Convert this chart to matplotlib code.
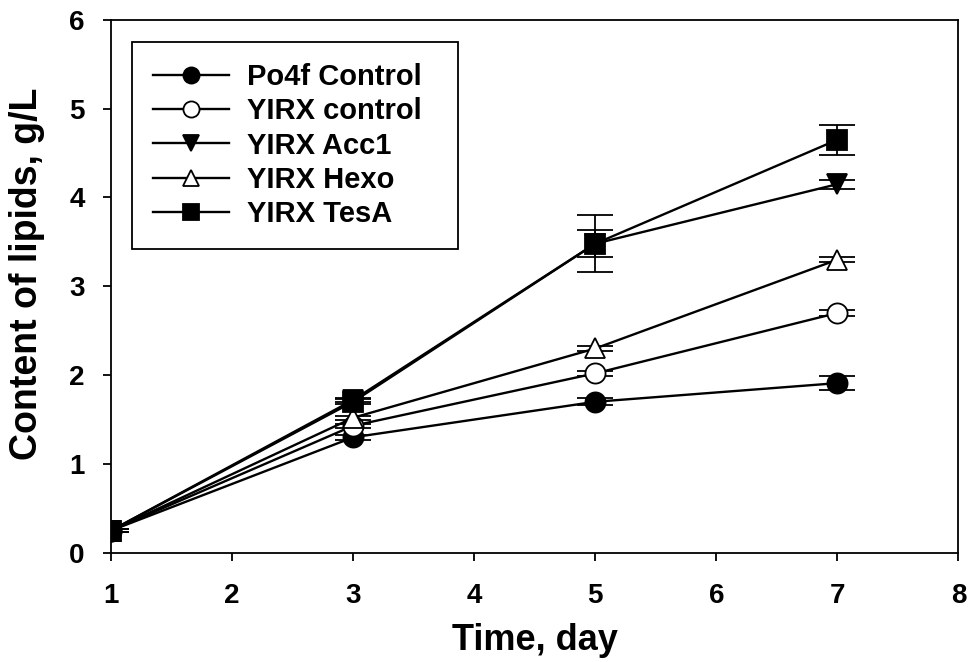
import numpy as np
import matplotlib.pyplot as plt

plt.rcParams['font.family'] = ['Liberation Sans', 'DejaVu Sans']
plt.rcParams['font.weight'] = 'bold'

days = [1, 3, 5, 7]
po4f_control = [0.25, 1.30, 1.70, 1.91]
po4f_err = [0.02, 0.03, 0.04, 0.08]
yirx_control = [0.25, 1.43, 2.02, 2.70]
yirx_control_err = [0.02, 0.02, 0.03, 0.03]
yirx_acc1 = [0.25, 1.72, 3.48, 4.15]
yirx_acc1_err = [0.02, 0.02, 0.15, 0.05]
yirx_hexo = [0.25, 1.52, 2.30, 3.30]
yirx_hexo_err = [0.02, 0.02, 0.03, 0.03]
yirx_tesa = [0.25, 1.70, 3.48, 4.65]
yirx_tesa_err = [0.02, 0.03, 0.32, 0.17]

series = [
    ('Po4f Control', po4f_control, po4f_err, 'o', 'black'),
    ('YIRX control', yirx_control, yirx_control_err, 'o', 'white'),
    ('YIRX Acc1', yirx_acc1, yirx_acc1_err, 'v', 'black'),
    ('YIRX Hexo', yirx_hexo, yirx_hexo_err, '^', 'white'),
    ('YIRX TesA', yirx_tesa, yirx_tesa_err, 's', 'black'),
]

fig = plt.figure(figsize=(9.74, 6.62), dpi=100)
ax = fig.add_axes([0.114, 0.165, 0.870, 0.805])

for label, vals, err, marker, face in series:
    ax.errorbar(days, vals, yerr=err, fmt='none', ecolor='black',
                capsize=13, elinewidth=1.3, capthick=1.3)
    ax.plot(days, vals, color='black', marker=marker, markersize=14.5,
            markerfacecolor=face, markeredgecolor='black', markeredgewidth=1.3,
            linewidth=1.7, label=label)

ax.set_xlim(1, 8)
ax.set_ylim(0, 6)
ax.set_xticks(range(1, 9))
ax.set_yticks(range(0, 7))
ax.tick_params(direction='out', length=6, width=1.3, labelsize=20)
ax.tick_params(axis='x', pad=16)
ax.tick_params(axis='y', pad=13)
for lbl in ax.get_xticklabels() + ax.get_yticklabels():
    lbl.set_fontweight('bold')
for sp in ax.spines.values():
    sp.set_linewidth(1.3)

ax.set_xlabel('Time, day', fontsize=26, fontweight='bold', labelpad=10)
ax.set_ylabel('Content of lipids, g/L', fontsize=27, fontweight='bold')
ax.yaxis.set_label_coords(-0.078, 0.523)

leg = ax.legend(loc='upper left', bbox_to_anchor=(0.025, 0.959, 0.384, 0.0),
                mode='expand', fontsize=21,
                frameon=True, fancybox=False, edgecolor='black', framealpha=1,
                handlelength=2.6, handletextpad=0.6, borderpad=0.72,
                labelspacing=0.22, markerscale=0.8, borderaxespad=0)
leg.get_frame().set_linewidth(1.3)

fig.savefig('out.png', dpi=100)
